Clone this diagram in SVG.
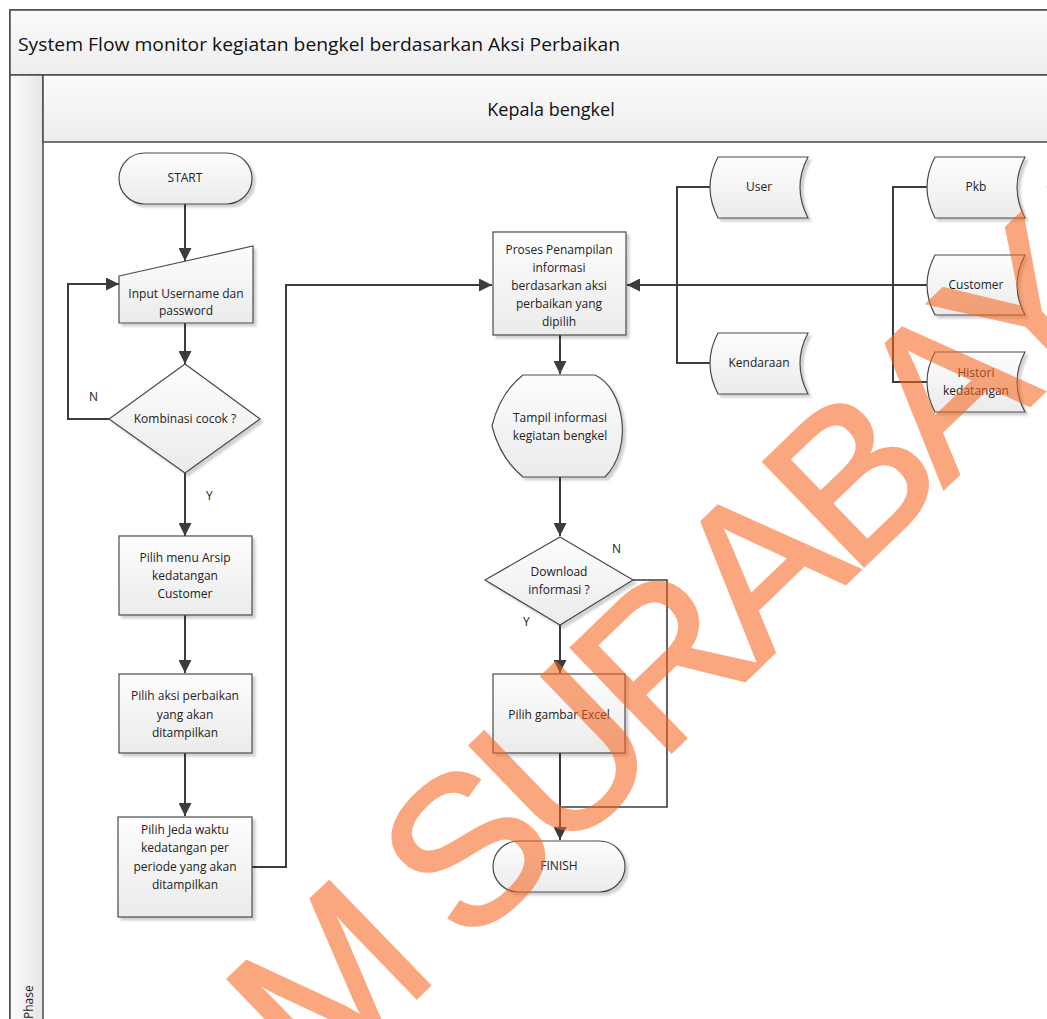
<svg xmlns="http://www.w3.org/2000/svg" width="1047" height="1019" viewBox="0 0 1047 1019">
  <defs>
    <linearGradient id="fillV" x1="0" y1="0" x2="0" y2="1">
      <stop offset="0" stop-color="#fdfdfd"/>
      <stop offset="1" stop-color="#ebebeb"/>
    </linearGradient>
    <linearGradient id="bandV" x1="0" y1="0" x2="0" y2="1">
      <stop offset="0" stop-color="#fbfbfb"/>
      <stop offset="1" stop-color="#ededed"/>
    </linearGradient>
    <linearGradient id="bandH" x1="0" y1="0" x2="1" y2="0">
      <stop offset="0" stop-color="#fbfbfb"/>
      <stop offset="1" stop-color="#e6e6e6"/>
    </linearGradient>
    <filter id="shadow" x="-10%" y="-10%" width="130%" height="130%">
      <feDropShadow dx="3" dy="3" stdDeviation="1.2" flood-color="#000" flood-opacity="0.18"/>
    </filter>
    <marker id="arrow" viewBox="0 0 10 10" refX="10" refY="5" markerWidth="13" markerHeight="13" markerUnits="userSpaceOnUse" orient="auto">
      <path d="M0,0 L10,5 L0,10 Z" fill="#3c3c3c"/>
    </marker>
    <style>
      .shape { fill: url(#fillV); stroke: #4a4a4a; stroke-width: 1.2; filter: url(#shadow); }
      .lbl { font-family: "Open Sans", "Noto Sans", sans-serif; font-size: 12px; fill: #222; text-anchor: middle; }
      .yn { font-family: "Open Sans", "Noto Sans", sans-serif; font-size: 12px; fill: #222; }
      .flow { fill: none; stroke: #3c3c3c; stroke-width: 2; }
      .thin { fill: none; stroke: #3c3c3c; stroke-width: 1.6; }
      .frame { stroke: #4a4a4a; stroke-width: 1.5; }
    </style>
  </defs>

  <rect width="1047" height="1019" fill="#ffffff"/>

  <!-- Pool frame, title band, lane header and phase column -->
  <g id="pool">
    <rect x="10" y="10" width="1050" height="1020" fill="#ffffff" class="frame"/>
    <rect x="10" y="10" width="1050" height="65" fill="url(#bandV)" class="frame"/>
    <text x="18" y="51" font-family="Open Sans, Noto Sans, sans-serif" font-size="19" fill="#111" textLength="602" lengthAdjust="spacingAndGlyphs">System Flow monitor kegiatan bengkel berdasarkan Aksi Perbaikan</text>
    <rect x="10" y="75" width="33" height="960" fill="url(#bandH)" class="frame"/>
    <rect x="43" y="75" width="1017" height="67" fill="url(#bandV)" class="frame"/>
    <text x="551" y="116" font-family="Open Sans, Noto Sans, sans-serif" font-size="18" fill="#111" text-anchor="middle">Kepala bengkel</text>
    <text transform="translate(33,1019) rotate(-90)" x="0" y="0" font-family="Open Sans, Noto Sans, sans-serif" font-size="12" fill="#222">Phase</text>
  </g>

  <!-- Connectors -->
  <g id="connectors">
    <path class="flow" d="M185,204 L185,261" marker-end="url(#arrow)"/>
    <path class="flow" d="M185,323 L185,364" marker-end="url(#arrow)"/>
    <path class="flow" d="M109,419 L68,419 L68,284 L119,284" marker-end="url(#arrow)"/>
    <path class="flow" d="M185,473 L185,536" marker-end="url(#arrow)"/>
    <path class="flow" d="M185,615 L185,673" marker-end="url(#arrow)"/>
    <path class="flow" d="M185,753 L185,816" marker-end="url(#arrow)"/>
    <path class="flow" d="M252,867 L286,867 L286,285 L492,285" marker-end="url(#arrow)"/>
    <path class="flow" d="M929,285 L627,285" marker-end="url(#arrow)"/>
    <path class="flow" d="M711,187 L677,187 L677,363 L711,363"/>
    <path class="flow" d="M928,187 L893,187 L893,382 L928,382"/>
    <path class="flow" d="M560,335 L560,374" marker-end="url(#arrow)"/>
    <path class="flow" d="M560,477 L560,536" marker-end="url(#arrow)"/>
    <path class="flow" d="M560,625 L560,673" marker-end="url(#arrow)"/>
    <path class="flow" d="M560,753 L560,840" marker-end="url(#arrow)"/>
    <path class="thin" d="M633,580 L667,580 L667,807 L560,807"/>
  </g>

  <g id="start">
    <rect class="shape" x="119" y="153" width="133" height="51" rx="25.5" ry="25.5"/>
    <text class="lbl" x="185" y="182">START</text>
  </g>

  <g id="input-login">
    <path class="shape" d="M119,276 L253,246 L253,323 L119,323 Z"/>
    <text class="lbl" x="186" y="298">Input Username dan</text>
    <text class="lbl" x="186" y="315">password</text>
  </g>

  <g id="check-login">
    <path class="shape" d="M185,364 L260,419 L185,473 L109,419 Z"/>
    <text class="lbl" x="185" y="423">Kombinasi cocok ?</text>
    <text class="yn" x="89" y="401">N</text>
    <text class="yn" x="206" y="500">Y</text>
  </g>

  <g id="menu-arsip">
    <rect class="shape" x="119" y="536" width="133" height="79"/>
    <text class="lbl" x="185" y="562">Pilih menu Arsip</text>
    <text class="lbl" x="185" y="580">kedatangan</text>
    <text class="lbl" x="185" y="598">Customer</text>
  </g>

  <g id="pilih-aksi">
    <rect class="shape" x="119" y="674" width="133" height="79"/>
    <text class="lbl" x="185" y="700">Pilih aksi perbaikan</text>
    <text class="lbl" x="185" y="719">yang akan</text>
    <text class="lbl" x="185" y="737">ditampilkan</text>
  </g>

  <g id="pilih-jeda">
    <rect class="shape" x="118" y="817" width="134" height="100"/>
    <text class="lbl" x="185" y="834">Pilih Jeda waktu</text>
    <text class="lbl" x="185" y="852">kedatangan per</text>
    <text class="lbl" x="185" y="871">periode yang akan</text>
    <text class="lbl" x="185" y="889">ditampilkan</text>
  </g>

  <g id="proses-penampilan">
    <rect class="shape" x="493" y="232" width="133" height="103"/>
    <text class="lbl" x="559" y="254">Proses Penampilan</text>
    <text class="lbl" x="559" y="272">informasi</text>
    <text class="lbl" x="559" y="290">berdasarkan aksi</text>
    <text class="lbl" x="559" y="308">perbaikan yang</text>
    <text class="lbl" x="559" y="326">dipilih</text>
  </g>

  <g id="db-user">
    <path class="shape" d="M718,157 L808,157 Q792,187 808,218 L718,218 Q702,187 718,157 Z"/>
    <text class="lbl" x="759" y="191">User</text>
  </g>

  <g id="db-kendaraan">
    <path class="shape" d="M718,333 L808,333 Q792,363 808,394 L718,394 Q702,363 718,333 Z"/>
    <text class="lbl" x="759" y="367">Kendaraan</text>
  </g>

  <g id="db-pkb">
    <path class="shape" d="M935,157 L1025,157 Q1009,187 1025,218 L935,218 Q919,187 935,157 Z"/>
    <text class="lbl" x="976" y="191">Pkb</text>
  </g>

  <g id="db-customer">
    <path class="shape" d="M935,255 L1025,255 Q1009,285 1025,315 L935,315 Q919,285 935,255 Z"/>
    <text class="lbl" x="976" y="289">Customer</text>
  </g>

  <g id="db-histori">
    <path class="shape" d="M935,352 L1025,352 Q1009,382 1025,412 L935,412 Q919,382 935,352 Z"/>
    <text class="lbl" x="976" y="377">Histori</text>
    <text class="lbl" x="976" y="395">kedatangan</text>
  </g>

  <g id="tampil-informasi">
    <path class="shape" d="M523,375 L595,375 C624,388 634,448 605,477 L523,477 Q500,458 492,426 Q500,393 523,375 Z"/>
    <text class="lbl" x="560" y="422">Tampil informasi</text>
    <text class="lbl" x="560" y="440">kegiatan bengkel</text>
  </g>

  <g id="cek-download">
    <path class="shape" d="M560,537 L633,580 L560,625 L485,580 Z"/>
    <text class="lbl" x="559" y="576">Download</text>
    <text class="lbl" x="559" y="594">informasi ?</text>
    <text class="yn" x="612" y="553">N</text>
    <text class="yn" x="523" y="626">Y</text>
  </g>

  <g id="pilih-excel">
    <rect class="shape" x="493" y="674" width="132" height="79"/>
    <text class="lbl" x="559" y="719">Pilih gambar Excel</text>
  </g>

  <g id="finish">
    <rect class="shape" x="493" y="841" width="132" height="51" rx="25.5" ry="25.5"/>
    <text class="lbl" x="559" y="870">FINISH</text>
  </g>

  <!-- Diagonal watermark -->
  <g id="watermark" opacity="0.56">
    <text transform="translate(316,1095) rotate(-44)" x="0" y="0" font-family="Liberation Sans, Arial, sans-serif" font-size="210" letter-spacing="-12" fill="#f7641e" stroke="#f7641e" stroke-width="3" stroke-linejoin="miter">M SURABAYA</text>
  </g>
</svg>
